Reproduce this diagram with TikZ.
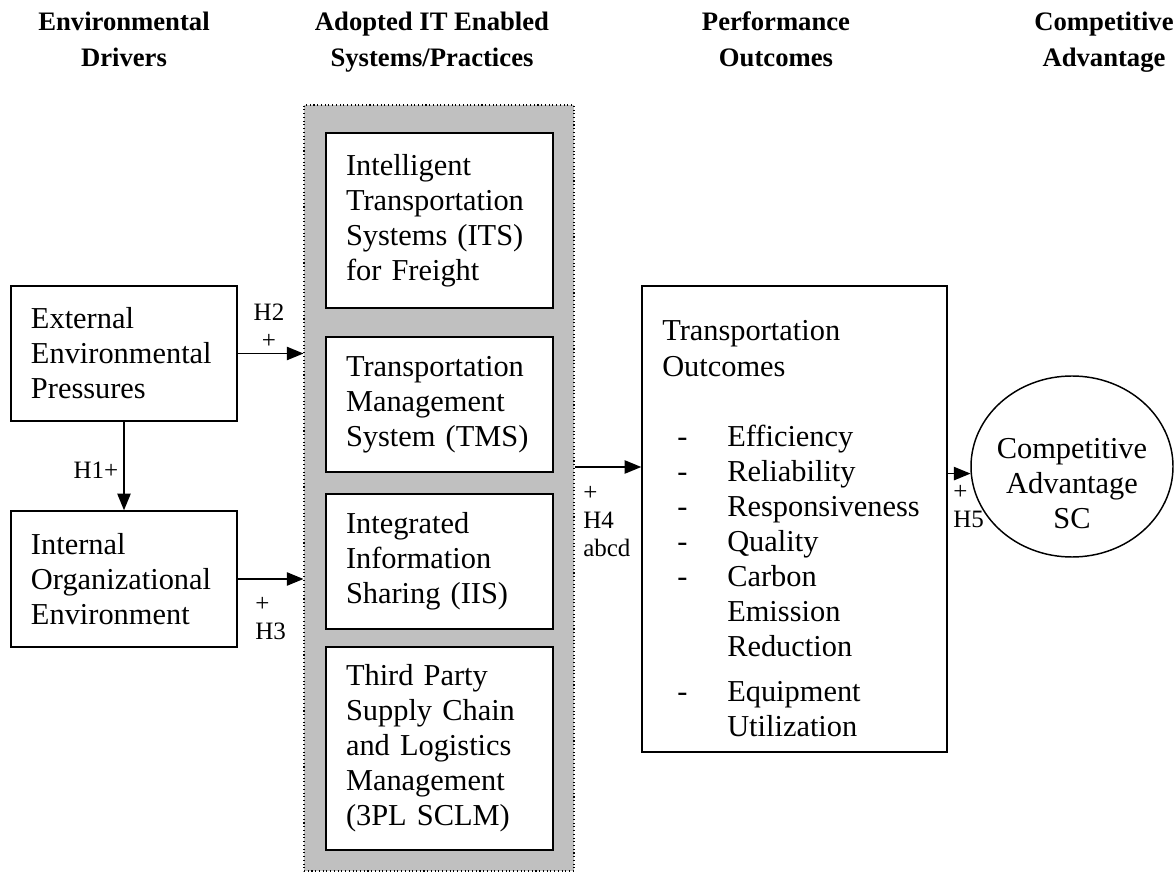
\documentclass[tikz,border=0pt]{standalone}
\usepackage{fontspec}
\setmainfont{Liberation Serif}
\usetikzlibrary{arrows.meta,shapes.geometric,calc}
\definecolor{panelgrey}{RGB}{192,192,192}

\begin{document}
\begin{tikzpicture}[x=0.75pt,y=-0.75pt,
  bodyfont/.style={font=\fontsize{22.8pt}{26.3pt}\selectfont},
  box/.style={draw, line width=1.1pt, fill=white, bodyfont,
    inner xsep=15pt, inner ysep=0pt, align=left},
  itbox/.style={box, text width=140.25pt},
  envbox/.style={box, text width=139.5pt},
  head/.style={font=\fontsize{20pt}{27pt}\selectfont\bfseries, align=center},
  hyp/.style={font=\fontsize{18.75pt}{21pt}\selectfont, inner sep=0pt},
  arrow/.style={line width=1.1pt, -{Triangle[length=12.5pt,width=10pt]}}
]
\path[use as bounding box] (0,0) rectangle (1175,873);

% column headings (struts keep every two-line heading the same height)
\node[head] (hdrenv) at (124,41) {\strut Environmental\\\strut Drivers};
\node[head] (hdrit)  at (432,41) {\strut Adopted IT Enabled\\\strut Systems/Practices};
\node[head] (hdrper) at (776,41) {\strut Performance\\\strut Outcomes};
\node[head] (hdrcomp) at (1104,41) {\strut Competitive\\\strut Advantage};

% environmental drivers
\node[envbox, minimum height=101.25pt] (ext) at (124,353.5)
  {External\\Environmental\\Pressures};
\node[envbox, minimum height=102pt] (int) at (124,579)
  {Internal\\Organizational\\Environment};

% grey panel of adopted systems
\node[draw, dotted, line width=0.8pt, fill=panelgrey,
      minimum width=202.5pt, minimum height=574.5pt, inner sep=0pt]
      (itgroup) at (439,488) {};
\node[itbox, minimum height=131.25pt] (its) at (439.5,220.5)
  {Intelligent\\Transportation\\Systems (ITS)\\for Freight};
\node[itbox, minimum height=101.25pt] (tms) at (439.5,404.5)
  {Transportation\\Management\\System (TMS)};
\node[itbox, minimum height=101.25pt] (iis) at (439.5,561.5)
  {Integrated\\Information\\Sharing (IIS)};
\node[itbox, minimum height=152.25pt] (tpl) at (439.5,748.5)
  {Third Party\\Supply Chain\\and Logistics\\Management\\(3PL SCLM)};

% performance outcomes
\node[draw, line width=1.1pt, minimum width=228.75pt, minimum height=349.5pt,
      inner sep=0pt] (outbox) at (794.5,519) {};
\node[bodyfont, anchor=base west, inner sep=0pt] (outtext) at (662,341)
{\begin{tabular}[t]{@{}p{48.75pt}@{}l@{}}
\multicolumn{2}{@{}l@{}}{Transportation}\\
\multicolumn{2}{@{}l@{}}{Outcomes}\\
\multicolumn{2}{@{}l@{}}{}\\
\hspace*{11.25pt}- & Efficiency\\
\hspace*{11.25pt}- & Reliability\\
\hspace*{11.25pt}- & Responsiveness\\
\hspace*{11.25pt}- & Quality\\
\hspace*{11.25pt}- & Carbon\\
 & Emission\\
 & Reduction\\[7.5pt]
\hspace*{11.25pt}- & Equipment\\
 & Utilization
\end{tabular}};

% competitive advantage
\node[draw, ellipse, line width=1.1pt, minimum width=151.5pt,
      minimum height=135.75pt, inner sep=0pt] (ca) at (1072,466.5) {};
\node[bodyfont, align=center, inner sep=0pt] (catext) at (1072,484)
  {Competitive\\Advantage\\SC};

% hypothesised links
\draw[arrow] (ext.east) -- (ext.east -| itgroup.west);
\draw[arrow] (int.east) -- (int.east -| itgroup.west);
\draw[arrow] (ext.south) -- (int.north);
\coordinate (h4y) at (0,467);
\draw[arrow] (itgroup.east |- h4y) -- (outbox.west |- h4y);
\draw[arrow] (outbox.east |- ca.184) -- (ca.184);

% hypothesis labels
\node[hyp, align=center] (lh2) at (269,326) {H2\\+};
\node[hyp] (lh1) at (96,470) {H1+};
\node[hyp, align=left, anchor=west] (lh3) at (255,619) {+\\H3};
\node[hyp, align=left, anchor=west] (lh4) at (583,521.5) {+\\H4\\abcd};
\node[hyp, align=left, anchor=west] (lh5) at (953,507) {+\\H5};
\end{tikzpicture}
\end{document}
